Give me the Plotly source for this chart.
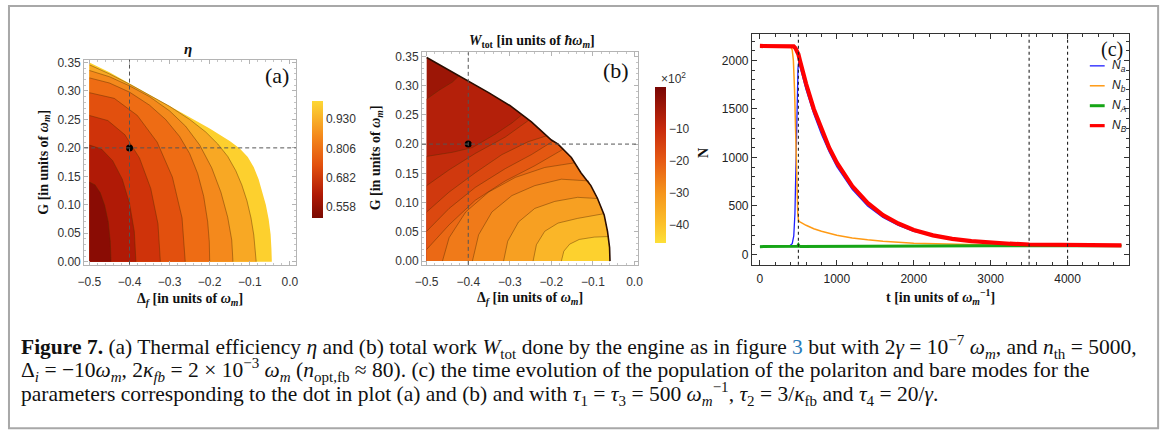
import plotly.graph_objects as go

W, H = 1174, 439


def px(x):
    return x / W


def py(y):
    return 1 - y / H


# ------------------------------------------------------------------ panel (a): eta
A_BOUND_D = [-0.5, -0.45, -0.4, -0.35, -0.3, -0.25, -0.2, -0.15, -0.125, -0.105, -0.09, -0.078, -0.068, -0.06, -0.053, -0.048, -0.046, -0.045]
A_BOUND_G = [0.35, 0.333, 0.313, 0.293, 0.274, 0.254, 0.234, 0.212, 0.199, 0.184, 0.166, 0.145, 0.122, 0.1, 0.075, 0.048, 0.022, 0.0]

A_C1_D = [-0.5, -0.486, -0.473, -0.462, -0.453, -0.448, -0.446]
A_C1_G = [0.14, 0.135, 0.121, 0.099, 0.07, 0.036, 0.0]
A_C2_D = [-0.5, -0.47, -0.442, -0.418, -0.4, -0.388, -0.384]
A_C2_G = [0.205, 0.198, 0.1775, 0.145, 0.1025, 0.053, 0.0]
A_C3_D = [-0.5, -0.454, -0.4115, -0.375, -0.347, -0.329, -0.323]
A_C3_G = [0.257, 0.248, 0.223, 0.182, 0.1285, 0.0665, 0.0]
A_C4_D = [-0.5, -0.438, -0.3805, -0.331, -0.293, -0.269, -0.261]
A_C4_G = [0.297, 0.287, 0.257, 0.21, 0.1485, 0.077, 0.0]
A_C5_D = [-0.5, -0.45, -0.4, -0.35, -0.31, -0.275, -0.25, -0.23, -0.215, -0.205, -0.201, -0.2]
A_C5_G = [0.323, 0.314, 0.298, 0.275, 0.25, 0.22, 0.19, 0.155, 0.115, 0.07, 0.035, 0.0]
A_C6_D = [-0.5, -0.45, -0.4, -0.35, -0.3, -0.26, -0.225, -0.195, -0.172, -0.155, -0.145, -0.142]
A_C6_G = [0.336, 0.325, 0.309, 0.29, 0.265, 0.238, 0.205, 0.165, 0.122, 0.078, 0.038, 0.0]
A_C7_D = [-0.5, -0.45, -0.4, -0.35, -0.3, -0.25, -0.21, -0.18, -0.155, -0.135, -0.12, -0.107, -0.097, -0.09, -0.086, -0.084]
A_C7_G = [0.346, 0.33, 0.312, 0.293, 0.273, 0.25, 0.228, 0.207, 0.185, 0.16, 0.135, 0.107, 0.077, 0.047, 0.02, 0.0]

# band colours, innermost (dark) -> outermost (yellow)
A_COLORS = ['#8a0c04', '#b01a06', '#cf330a', '#e2500e', '#ee6c14', '#f4891c', '#f8a824', '#fdd02e']
A_CB_TICKS = [0.558, 0.682, 0.806, 0.930]
A_CB_MIN, A_CB_MAX = 0.511, 1.006

# ------------------------------------------------------------------ panel (b): W_tot
B_BOUND_D = [-0.5, -0.47, -0.43, -0.4, -0.351, -0.3, -0.248, -0.2, -0.184, -0.152, -0.129, -0.105, -0.089, -0.073, -0.065, -0.06, -0.059]
B_BOUND_G = [0.348, 0.336, 0.32, 0.308, 0.288, 0.266, 0.238, 0.207, 0.2, 0.177, 0.151, 0.129, 0.107, 0.079, 0.051, 0.023, 0.0]

# contours, outermost (top-left) -> innermost (yellow minimum)
B_O6_D = [-0.5, -0.47, -0.438, -0.422]
B_O6_G = [0.277, 0.292, 0.306, 0.317]
B_O5_D = [-0.5, -0.438, -0.39, -0.335, -0.295, -0.271]
B_O5_G = [0.179, 0.186, 0.194, 0.217, 0.236, 0.25]
B_O4_D = [-0.5, -0.446, -0.383, -0.311, -0.254]
B_O4_G = [0.129, 0.156, 0.184, 0.212, 0.241]
B_O3_D = [-0.5, -0.446, -0.383, -0.319, -0.256, -0.212]
B_O3_G = [0.084, 0.118, 0.151, 0.182, 0.204, 0.214]
B_O2_D = [-0.5, -0.446, -0.383, -0.311, -0.248, -0.196]
B_O2_G = [0.051, 0.09, 0.126, 0.158, 0.182, 0.205]
B_O1_D = [-0.5, -0.446, -0.383, -0.311, -0.24, -0.172]
B_O1_G = [0.02, 0.062, 0.104, 0.137, 0.163, 0.191]
B_I5_D = [-0.462, -0.446, -0.406, -0.351, -0.287, -0.216, -0.144]
B_I5_G = [0.0, 0.04, 0.084, 0.118, 0.143, 0.16, 0.168]
B_I4_D = [-0.39, -0.375, -0.343, -0.295, -0.24, -0.176, -0.11]
B_I4_G = [0.0, 0.045, 0.084, 0.112, 0.129, 0.14, 0.137]
B_I3_D = [-0.315, -0.305, -0.279, -0.24, -0.192, -0.137, -0.09]
B_I3_G = [0.0, 0.034, 0.067, 0.09, 0.102, 0.109, 0.107]
B_I2_D = [-0.244, -0.236, -0.216, -0.184, -0.137, -0.074]
B_I2_G = [0.0, 0.028, 0.051, 0.065, 0.073, 0.081]
B_I1_D = [-0.176, -0.17, -0.156, -0.133, -0.097, -0.064]
B_I1_G = [0.0, 0.017, 0.029, 0.037, 0.041, 0.042]

B_COLORS = ['#9c1606', '#b4200a', '#c32c0c', '#d0390e', '#db4810', '#e45812',
            '#eb6915', '#f07a19', '#f48c1d', '#f7a022', '#fab628', '#fdd12e']
B_CB_TICKS = [-10, -20, -30, -40]
B_CB_LABELS = ['\u221210', '\u221220', '\u221230', '\u221240']
B_CB_MIN, B_CB_MAX = -45.6, 3.1

DOT_D, DOT_G = -0.4, 0.2

# ------------------------------------------------------------------ panel (c): populations
T_A = [0, 380, 420, 440, 455, 465, 475, 485, 495, 505, 520, 550, 600, 700, 800, 900, 1000, 1200, 1400, 1600, 1800, 2000, 2500, 3000, 3500, 4700]
N_A_SMALL = [82, 85, 110, 190, 420, 800, 1250, 1650, 1920, 1985, 1945, 1850, 1700, 1450, 1240, 1060, 905, 672, 500, 382, 300, 238, 152, 114, 99, 92]

T_B_SMALL = [0, 400, 420, 435, 450, 462, 472, 482, 492, 498, 502, 520, 550, 600, 700, 800, 1000, 1200, 1400, 1600, 2000, 2500, 3000, 3500, 4700]
N_B_SMALL = [2150, 2145, 2110, 2000, 1700, 1300, 900, 600, 420, 380, 345, 335, 320, 300, 265, 238, 198, 170, 150, 135, 115, 102, 96, 93, 91]

T_A_BIG = [0, 470, 490, 500, 510, 530, 1000, 2000, 3000, 4700]
N_A_BIG = [80, 80, 84, 98, 85, 81, 83, 86, 89, 90]

T_B_BIG = [0, 400, 440, 460, 480, 500, 520, 550, 600, 700, 800, 900, 1000, 1200, 1400, 1600, 1800, 2000, 2250, 2500, 2750, 3000, 3250, 3500, 4000, 4700]
N_B_BIG = [2150, 2150, 2145, 2130, 2105, 2065, 2000, 1900, 1760, 1500, 1285, 1100, 945, 705, 530, 405, 318, 252, 196, 160, 136, 120, 110, 102, 95, 93]

T_MARKERS = [500, 3500, 4000]

SERIES = [
    ('a', T_A, N_A_SMALL, '#1f1fff', 1.3),
    ('b', T_B_SMALL, N_B_SMALL, '#ff9a14', 1.5),
    ('A', T_A_BIG, N_A_BIG, '#16a516', 3.0),
    ('B', T_B_BIG, N_B_BIG, '#ff0000', 4.2),
]

fig = go.Figure()

LINE_COL = 'rgba(90,45,0,0.55)'

# ---------- (a) fills
fig.add_trace(go.Scatter(x=A_BOUND_D + [-0.5], y=A_BOUND_G + [0.0], fill='toself', mode='lines',
                         line=dict(width=0), fillcolor=A_COLORS[7], xaxis='x', yaxis='y',
                         hoverinfo='skip', showlegend=False))
a_contours = [(A_C7_D, A_C7_G), (A_C6_D, A_C6_G), (A_C5_D, A_C5_G), (A_C4_D, A_C4_G),
              (A_C3_D, A_C3_G), (A_C2_D, A_C2_G), (A_C1_D, A_C1_G)]
for i, (cd, cg) in enumerate(a_contours):
    fig.add_trace(go.Scatter(x=cd + [-0.5], y=cg + [0.0], fill='toself', mode='lines',
                             line=dict(width=0), fillcolor=A_COLORS[6 - i], xaxis='x', yaxis='y',
                             hoverinfo='skip', showlegend=False))
for cd, cg in a_contours:
    fig.add_trace(go.Scatter(x=cd, y=cg, mode='lines', line=dict(color=LINE_COL, width=0.8),
                             xaxis='x', yaxis='y', hoverinfo='skip', showlegend=False))

# ---------- (b) fills
fig.add_trace(go.Scatter(x=B_BOUND_D + [-0.5], y=B_BOUND_G + [0.0], fill='toself', mode='lines',
                         line=dict(width=0), fillcolor=B_COLORS[0], xaxis='x2', yaxis='y2',
                         hoverinfo='skip', showlegend=False))
b_contours = [(B_O6_D, B_O6_G), (B_O5_D, B_O5_G), (B_O4_D, B_O4_G), (B_O3_D, B_O3_G),
              (B_O2_D, B_O2_G), (B_O1_D, B_O1_G), (B_I5_D, B_I5_G), (B_I4_D, B_I4_G),
              (B_I3_D, B_I3_G), (B_I2_D, B_I2_G), (B_I1_D, B_I1_G)]
for i, (cd, cg) in enumerate(b_contours):
    end_d = cd[-1]
    bd = [d for d in B_BOUND_D if d > end_d]
    bg = [g for d, g in zip(B_BOUND_D, B_BOUND_G) if d > end_d]
    xs = cd + bd
    ys = cg + bg
    if cg[0] > 0:  # starts on the left edge
        xs = xs + [-0.5]
        ys = ys + [0.0]
    fig.add_trace(go.Scatter(x=xs, y=ys, fill='toself', mode='lines', line=dict(width=0),
                             fillcolor=B_COLORS[i + 1], xaxis='x2', yaxis='y2',
                             hoverinfo='skip', showlegend=False))
for cd, cg in b_contours:
    fig.add_trace(go.Scatter(x=cd, y=cg, mode='lines', line=dict(color=LINE_COL, width=0.8),
                             xaxis='x2', yaxis='y2', hoverinfo='skip', showlegend=False))
fig.add_trace(go.Scatter(x=B_BOUND_D, y=B_BOUND_G, mode='lines', line=dict(color='#2a0e02', width=1.6),
                         xaxis='x2', yaxis='y2', hoverinfo='skip', showlegend=False))

# dots
for xa, ya in (('x', 'y'), ('x2', 'y2')):
    fig.add_trace(go.Scatter(x=[DOT_D], y=[DOT_G], mode='markers',
                             marker=dict(color='black', size=7), xaxis=xa, yaxis=ya,
                             hoverinfo='skip', showlegend=False))

# colour bars
fig.add_trace(go.Scatter(x=[None], y=[None], mode='markers', xaxis='x', yaxis='y', showlegend=False,
                         marker=dict(color=[A_CB_MIN], cmin=A_CB_MIN, cmax=A_CB_MAX, showscale=True,
                                     colorscale=[[0, '#7a0a02'], [0.2, '#b01a06'], [0.45, '#e2500e'],
                                                 [0.7, '#f4891c'], [1, '#fdd835']],
                                     colorbar=dict(thickness=11, lenmode='pixels', len=117,
                                                   x=px(308), xanchor='left', y=py(158.5), yanchor='middle',
                                                   xpad=0, ypad=0, outlinewidth=0, ticks='', ticklen=0,
                                                   tickvals=A_CB_TICKS, ticktext=['%.3f' % v for v in A_CB_TICKS],
                                                   tickfont=dict(family='Liberation Sans', size=12, color='#333')))))
fig.add_trace(go.Scatter(x=[None], y=[None], mode='markers', xaxis='x2', yaxis='y2', showlegend=False,
                         marker=dict(color=[B_CB_MIN], cmin=B_CB_MIN, cmax=B_CB_MAX, showscale=True,
                                     colorscale=[[0, '#fde038'], [0.115, '#fcc22a'], [0.32, '#f5951c'],
                                                 [0.526, '#e65a14'], [0.731, '#c82a0c'], [1, '#780604']],
                                     colorbar=dict(thickness=11, lenmode='pixels', len=156,
                                                   x=px(655), xanchor='left', y=py(164), yanchor='middle',
                                                   xpad=0, ypad=0, outlinewidth=0, ticks='', ticklen=0,
                                                   tickvals=B_CB_TICKS, ticktext=B_CB_LABELS,
                                                   tickfont=dict(family='Liberation Sans', size=12, color='#333')))))

# ---------- (c) lines
for name, t, n, col, lw in SERIES:
    fig.add_trace(go.Scatter(x=t, y=n, mode='lines', line=dict(color=col, width=lw),
                             xaxis='x3', yaxis='y3', hoverinfo='skip', showlegend=False, name='N_' + name))

# ---------- axes
FRAME_AB = dict(showline=True, linecolor='#b4b4b4', linewidth=1, mirror='ticks', ticks='inside',
                ticklen=4, tickcolor='#b4b4b4', showgrid=False, zeroline=False,
                tickfont=dict(family='Liberation Sans', size=12, color='#333'))
FRAME_C = dict(showline=True, linecolor='#333', linewidth=1.2, mirror='ticks', ticks='inside',
               ticklen=5, tickcolor='#333', showgrid=False, zeroline=False,
               tickfont=dict(family='Liberation Sans', size=12, color='#222'))

fig.update_layout(
    width=W, height=H, margin=dict(l=0, r=0, t=0, b=0),
    paper_bgcolor='white', plot_bgcolor='white', showlegend=False,
    xaxis=dict(domain=[px(78), px(292)], range=[-0.513, 0.0153], anchor='y', dtick=0.1, tick0=0,
               tickformat='.1f', ticklabelstandoff=6,
               minor=dict(ticks='inside', ticklen=2, dtick=0.02, tickcolor='#c4c4c4'), **FRAME_AB),
    yaxis=dict(domain=[py(265.4), py(56.7)], range=[-0.005, 0.355], anchor='x', dtick=0.05, tick0=0,
               tickformat='.2f', minor=dict(ticks='inside', ticklen=2, dtick=0.01, tickcolor='#c4c4c4'), **FRAME_AB),
    xaxis2=dict(domain=[px(419.3), px(637.7)], range=[-0.5112, 0.0088], anchor='y2', dtick=0.1, tick0=0,
                tickformat='.1f', ticklabelstandoff=6,
                minor=dict(ticks='inside', ticklen=2, dtick=0.02, tickcolor='#c4c4c4'), **FRAME_AB),
    yaxis2=dict(domain=[py(265.7), py(49.3)], range=[-0.0064, 0.3567], anchor='x2', dtick=0.05, tick0=0,
                tickformat='.2f', minor=dict(ticks='inside', ticklen=2, dtick=0.01, tickcolor='#c4c4c4'), **FRAME_AB),
    xaxis3=dict(domain=[px(752.7), px(1134)], range=[-103, 4804], anchor='y3', dtick=1000, tick0=0,
                ticklabelstandoff=3,
                minor=dict(ticks='inside', ticklen=3, dtick=200, tickcolor='#333'), **FRAME_C),
    yaxis3=dict(domain=[py(265.7), py(30.7)], range=[-108, 2272], anchor='x3', dtick=500, tick0=0,
                minor=dict(ticks='inside', ticklen=3, dtick=100, tickcolor='#333'), **FRAME_C),
)

# dashed guide lines
for xr, yr in (('x', 'y'), ('x2', 'y2')):
    fig.add_shape(type='line', xref=xr, yref=yr + ' domain', x0=DOT_D, x1=DOT_D, y0=0, y1=1,
                  line=dict(color='#555', width=1, dash='4px,3px'))
    fig.add_shape(type='line', xref=xr + ' domain', yref=yr, x0=0, x1=1, y0=DOT_G, y1=DOT_G,
                  line=dict(color='#555', width=1, dash='4px,3px'))
for tm in T_MARKERS:
    fig.add_shape(type='line', xref='x3', yref='y3 domain', x0=tm, x1=tm, y0=0, y1=1,
                  line=dict(color='#222', width=1.1, dash='3px,3px'))

# outer frame
fig.add_shape(type='rect', xref='paper', yref='paper', x0=px(2), x1=px(1163), y0=py(432), y1=py(2),
              line=dict(color='#a8a8a8', width=2))


def ann(x, y, text, size=14, family='Liberation Serif', color='#111', angle=0, xanchor='center'):
    fig.add_annotation(x=px(x), y=py(y), xref='paper', yref='paper', text=text, showarrow=False,
                       font=dict(family=family, size=size, color=color), textangle=angle,
                       xanchor=xanchor, yanchor='middle', align='left' if xanchor == 'left' else 'center',
                       borderpad=0)


# titles
ann(183, 46, '<b><i>η</i></b>', size=15)
ann(530, 38, '<b><i>W</i><sub>tot</sub> [in units of <i>ħω</i><sub><i>m</i></sub>]</b>', size=14)
ann(185, 301, '<b>Δ<sub><i>f</i></sub> [in units of <i>ω</i><sub><i>m</i></sub>]</b>', size=14)
ann(528, 300, '<b>Δ<sub><i>f</i></sub> [in units of <i>ω</i><sub><i>m</i></sub>]</b>', size=14)
ann(37, 161, '<b>G [in units of <i>ω</i><sub><i>m</i></sub>]</b>', size=14, angle=-90)
ann(373, 157, '<b>G [in units of <i>ω</i><sub><i>m</i></sub>]</b>', size=14, angle=-90)
ann(943, 298, '<b>t [in units of <i>ω</i><sub><i>m</i></sub><sup>−1</sup>]</b>', size=14)
ann(703, 152, '<b>N</b>', size=14, angle=-90)
ann(273, 73, '(a)', size=22)
ann(615, 68, '(b)', size=22)
ann(1116, 46, '(c)', size=20)
ann(673, 75, '×10<sup>2</sup>', size=12, family='Liberation Sans', color='#333')

# legend of (c)
for k, (name, t, n, col, lw) in enumerate(SERIES):
    yy = 63 + k * 20.3
    fig.add_shape(type='line', xref='paper', yref='paper', x0=px(1094), x1=px(1109), y0=py(yy), y1=py(yy),
                  line=dict(color=col, width=min(lw, 3.2)))
    ann(1115, yy, '<i>N</i><sub><i>' + name + '</i></sub>', size=12, family='Liberation Sans',
        color='#222', xanchor='left')

# caption
CAP1 = ('<b>Figure 7.</b> (a) Thermal efficiency <i>η</i> and (b) total work <i>W</i><sub>tot</sub> done by the engine '
        'as in figure <span style="color:#2a7ab8">3</span> but with 2<i>γ</i> = 10<sup>−7</sup> <i>ω</i><sub><i>m</i></sub>, '
        'and <i>n</i><sub>th</sub> = 5000,')
CAP2 = ('Δ<sub><i>i</i></sub> = −10<i>ω</i><sub><i>m</i></sub>, 2<i>κ</i><sub><i>fb</i></sub> = 2 × 10<sup>−3</sup> '
        '<i>ω</i><sub><i>m</i></sub> (<i>n</i><sub>opt,fb</sub> ≈ 80). (c) the time evolution of the population of the '
        'polariton and bare modes for the')
CAP3 = ('parameters corresponding to the dot in plot (a) and (b) and with <i>τ</i><sub>1</sub> = <i>τ</i><sub>3</sub> = 500 '
        '<i>ω</i><sub><i>m</i></sub><sup>−1</sup>, <i>τ</i><sub>2</sub> = 3/<i>κ</i><sub>fb</sub> and '
        '<i>τ</i><sub>4</sub> = 20/<i>γ</i>.')
for yy, txt in ((349, CAP1), (373, CAP2), (397, CAP3)):
    ann(13, yy, txt, size=21.5, xanchor='left')

fig.write_html('out.html', config={'displayModeBar': False},
               post_script="document.body.style.margin='0px';document.body.style.overflow='hidden';")
